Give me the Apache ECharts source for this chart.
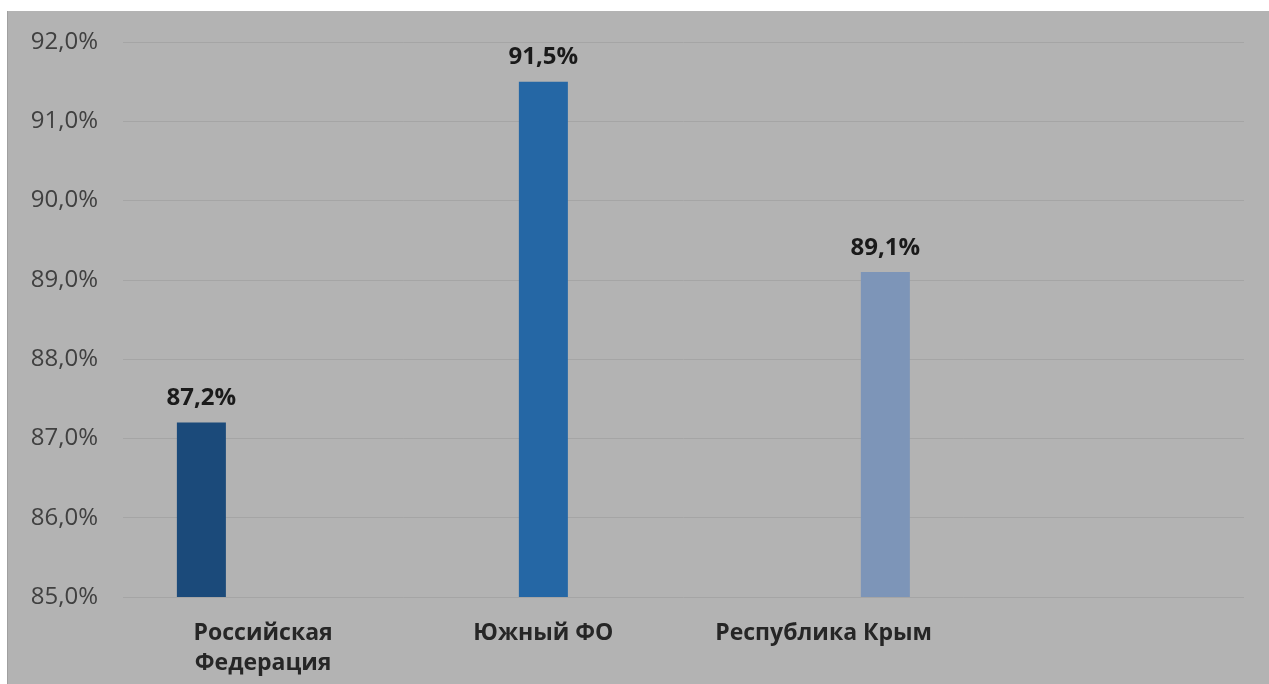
<!DOCTYPE html>
<html>
<head>
<meta charset="utf-8">
<script src="https://cdn.jsdelivr.net/npm/echarts@6/dist/echarts.min.js"></script>
<style>
html,body{margin:0;padding:0;background:#fff;width:1269px;height:684px;overflow:hidden;}
#c{position:absolute;left:7px;top:11px;width:1262px;height:673px;background:#b3b3b3;box-shadow:inset 1px 0 0 #a0a0a0;}
</style>
</head>
<body>
<div id="c"></div>
<script>
const categories = ['Российская\nФедерация', 'Южный ФО', 'Республика Крым', ''];
const seriesNames = ['Российская Федерация', 'Южный ФО', 'Республика Крым'];
const values = [87.2, 91.5, 89.1];
const colors = ['#1b4a7a', '#2567a5', '#7d95b8'];
const yMin = 85, yMax = 92, yStep = 1;

const fmt = v => v.toFixed(1).replace('.', ',') + '%';

const series = seriesNames.map((name, i) => ({
  name: name,
  type: 'bar',
  barWidth: 49,
  barGap: '26%',
  data: categories.map((c, j) => (j === i ? values[i] : '-')),
  itemStyle: { color: colors[i] },
  label: {
    show: true,
    position: 'top',
    distance: 12,
    formatter: p => fmt(p.value),
    fontFamily: 'Open Sans',
    fontWeight: 'bold',
    fontSize: 24,
    color: '#1a1a1a'
  }
}));

const chart = echarts.init(document.getElementById('c'));
chart.setOption({
  animation: false,
  grid: { left: 116, right: 25, top: 31, bottom: 87 },
  xAxis: {
    type: 'category',
    data: categories,
    axisLine: { show: false },
    axisTick: { show: false },
    axisLabel: {
      interval: 0,
      hideOverlap: false,
      margin: 21,
      fontFamily: 'Open Sans',
      fontWeight: 'bold',
      fontSize: 23,
      lineHeight: 30,
      color: '#262626'
    }
  },
  yAxis: {
    type: 'value',
    min: yMin,
    max: yMax,
    interval: yStep,
    axisLine: { show: false },
    axisTick: { show: false },
    splitLine: { lineStyle: { color: '#a5a5a5', width: 1 } },
    axisLabel: {
      margin: 25,
      fontFamily: 'Open Sans',
      fontSize: 24,
      color: '#404040',
      formatter: v => fmt(v)
    }
  },
  series: series
});
</script>
</body>
</html>
